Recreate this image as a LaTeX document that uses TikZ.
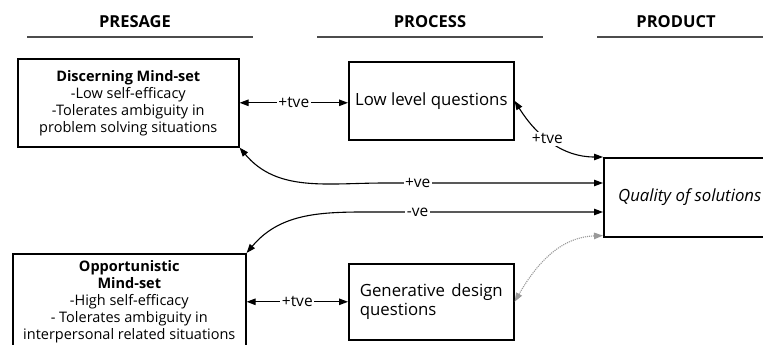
\documentclass[tikz,border=0pt]{standalone}
\usepackage{fontspec}
\setmainfont{Open Sans}
\usetikzlibrary{arrows.meta}

\begin{document}
\begin{tikzpicture}
  [x=1pt,y=-1pt,
   font=\fontsize{14.5}{17}\selectfont,
   box/.style={rectangle,
               draw=black,
               line width=1.6pt,
               inner sep=0pt,
               align=center},
   big/.style={font=\fontsize{16.8}{18.5}\selectfont},
   head/.style={font=\fontsize{16.5}{18}\selectfont\bfseries},
   rule/.style={draw=black!70,line width=2pt},
   link/.style={{Triangle[length=9pt,width=6.5pt]}-{Triangle[length=9pt,width=6.5pt]},line width=1.1pt},
   weak/.style={link,draw=black!40,densely dotted},
   lbl/.style={fill=white,inner sep=1.5pt,font=\fontsize{15.5}{17}\selectfont}]
  \useasboundingbox (0,0) rectangle (763,345);

  % column heads
  \node[head] (presage) at (135,22) {PRESAGE};
  \node[head] (process) at (430,22) {PROCESS};
  \node[head] (product) at (676,22) {PRODUCT};
  \draw[rule] (27,37) -- (253,37);
  \draw[rule] (317,37) -- (543,37);
  \draw[rule] (597,37) -- (763,37);

  % boxes
  \node[box,anchor=north west,minimum width=221pt,minimum height=88pt] (disc) at (17,58)
    {\textbf{Discerning Mind-set}\\-Low self-efficacy\\-Tolerates ambiguity in\\problem solving situations};
  \node[box,big,anchor=north west,minimum width=165pt,minimum height=78pt] (low) at (348,61)
    {Low level questions};
  \node[box,big,anchor=north west,minimum width=172pt,minimum height=79pt] (qual) at (603,157)
    {\textit{Quality of solutions}};
  \node[box,anchor=north west,minimum width=233pt,minimum height=96pt] (opp) at (12,253)
    {\textbf{Opportunistic}\\\textbf{Mind-set}\\-High self-efficacy\\- Tolerates ambiguity in\\interpersonal related situations};
  \node[box,big,anchor=north west,minimum width=165pt,minimum height=76pt] (gen) at (348,263)
    {\begin{minipage}{143pt}Generative\hfill design\\questions\end{minipage}};

  % links
  \draw[link] (disc.east) -- node[lbl] {+tve} (disc.east -| low.west);
  \draw[link] (opp.east) -- node[lbl] {+tve} (opp.east -| gen.west);
  \draw[link] (low.east) to[out=-58,in=180] node[lbl,pos=0.45] {+tve} (qual.north west);
  \draw[link] (disc.south east) to[out=-50,in=180] (385,183)
    -- node[lbl,pos=0.15] {+ve} ([yshift=-26pt]qual.north west);
  \draw[link] ([yshift=-55pt]qual.north west) -- node[lbl,pos=0.85] {-ve} (385,212)
    to[out=180,in=50] (opp.north east);
  \draw[weak] ([yshift=2pt]qual.south west) to[out=182,in=60] (gen.east);
\end{tikzpicture}
\end{document}
